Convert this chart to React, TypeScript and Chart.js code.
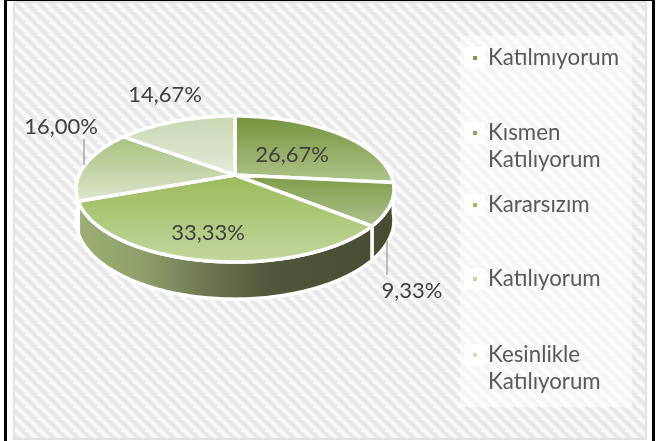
import React, { useEffect, useRef } from "react";
import { Chart, registerables } from "chart.js";

Chart.register(...registerables);

const categories: string[][] = [
  ["Katılmıyorum"],
  ["Kısmen", "Katılıyorum"],
  ["Kararsızım"],
  ["Katılıyorum"],
  ["Kesinlikle", "Katılıyorum"],
];
const values = [26.67, 9.33, 33.33, 16.0, 14.67];
const markerColors = ["#7f9c46", "#8fac55", "#9bbb59", "#c3d69b", "#d8e4bc"];
const sliceTopColors = ["#76933c", "#7d9b45", "#9bbb59", "#a9c07e", "#c9d7b4"];
const sliceBottomColors = ["#b0c48a", "#b2c291", "#c4d69e", "#dde6ce", "#e4ecd9"];
const wallStops: [number, string][] = [
  [0, "#9cae72"],
  [0.2, "#8f9f6b"],
  [0.42, "#6b7350"],
  [0.62, "#4f5639"],
  [1, "#454c30"],
];

// Layout of the tilted disc (perspective projection of the pie's unit circle)
const CX = 235;
const CY = 175;
const RX = 156;
const RY = 70.3;
const TILT = 0.192;
const DEPTH = 30;

const labelCenters: [number, number][] = [
  [292, 155],
  [412, 291],
  [208, 233],
  [61, 127],
  [165, 95],
];
const leaders: ([number, number, number] | null)[] = [
  null,
  [387, 240, 275],
  null,
  [84, 139, 165],
  null,
];
const legendRows: number[][] = [[58], [133, 160], [205], [279], [355, 382]];

const FONT = "Lato, 'Open Sans', sans-serif";

function project(angle: number, r: number, lower: boolean): [number, number] {
  const u = Math.cos(angle) * r;
  const v = Math.sin(angle) * r;
  const w = 1 - TILT * v;
  return [CX + (RX * u) / w, CY + (RY * v + (lower ? DEPTH : 0)) / w];
}

function arcPoints(a0: number, a1: number, lower: boolean): [number, number][] {
  const n = Math.max(2, Math.ceil(Math.abs(a1 - a0) / 0.02));
  const pts: [number, number][] = [];
  for (let i = 0; i <= n; i++) pts.push(project(a0 + ((a1 - a0) * i) / n, 1, lower));
  return pts;
}

function tracePolygon(ctx: CanvasRenderingContext2D, pts: [number, number][]) {
  ctx.beginPath();
  pts.forEach((p, i) => (i ? ctx.lineTo(p[0], p[1]) : ctx.moveTo(p[0], p[1])));
  ctx.closePath();
}

function makeHatch(ctx: CanvasRenderingContext2D): CanvasPattern | string {
  const size = 12;
  const c = document.createElement("canvas");
  c.width = size;
  c.height = size;
  const g = c.getContext("2d");
  if (!g) return "#f2f2f2";
  g.fillStyle = "#fbfbfb";
  g.fillRect(0, 0, size, size);
  [[6, "#f0f0f0"], [3, "#e7e7e7"]].forEach(([lw, col]) => {
    g.strokeStyle = col as string;
    g.lineWidth = lw as number;
    for (let k = -size; k <= size * 2; k += size) {
      g.beginPath();
      g.moveTo(k - size, -size);
      g.lineTo(k + size, size);
      g.stroke();
    }
  });
  return ctx.createPattern(c, "repeat") || "#f2f2f2";
}

const scenePlugin = {
  id: "scene",
  beforeDraw(chart: Chart) {
    const ctx = chart.ctx;
    ctx.save();
    ctx.fillStyle = "#ffffff";
    ctx.fillRect(0, 0, 660, 441);
    ctx.fillStyle = makeHatch(ctx);
    ctx.fillRect(14, 2, 632, 436);
    ctx.strokeStyle = "#e3e3e3";
    ctx.lineWidth = 2;
    ctx.strokeRect(14, 2, 632, 437);
    ctx.fillStyle = "#000000";
    ctx.fillRect(4, 0, 3, 441);
    ctx.fillRect(652, 0, 3, 441);
    ctx.fillRect(4, 0, 651, 1);
    // legend panel
    ctx.fillStyle = "rgba(255,255,255,0.55)";
    ctx.fillRect(460, 36, 172, 371);
    ctx.restore();
  },
  beforeDatasetsDraw(chart: Chart) {
    const ctx = chart.ctx;
    const arcs = chart.getDatasetMeta(0).data as any[];
    ctx.save();
    ctx.lineJoin = "round";
    ctx.strokeStyle = "#ffffff";
    ctx.lineWidth = 3.5;

    // side wall, front half only
    const wall = ctx.createLinearGradient(80, 0, 393, 0);
    wallStops.forEach(([o, col]) => wall.addColorStop(o, col));
    arcs.forEach((arc) => {
      const a0 = Math.max(arc.startAngle, 0);
      const a1 = Math.min(arc.endAngle, Math.PI);
      if (a1 <= a0) return;
      const pts = [...arcPoints(a0, a1, false), ...arcPoints(a1, a0, true)];
      tracePolygon(ctx, pts);
      ctx.fillStyle = wall;
      ctx.fill();
      ctx.stroke();
    });

    // top surface
    arcs.forEach((arc, i) => {
      const pts = [[CX, CY] as [number, number], ...arcPoints(arc.startAngle, arc.endAngle, false)];
      const ys = pts.map((p) => p[1]);
      const grad = ctx.createLinearGradient(0, Math.min(...ys), 0, Math.max(...ys));
      grad.addColorStop(0, sliceTopColors[i]);
      grad.addColorStop(1, sliceBottomColors[i]);
      tracePolygon(ctx, pts);
      ctx.fillStyle = grad;
      ctx.fill();
      ctx.stroke();
    });
    ctx.restore();
    return false;
  },
  afterDraw(chart: Chart) {
    const ctx = chart.ctx;
    ctx.save();
    // leader lines
    ctx.strokeStyle = "#a6a6a6";
    ctx.lineWidth = 1.5;
    leaders.forEach((l) => {
      if (!l) return;
      ctx.beginPath();
      ctx.moveTo(l[0], l[1]);
      ctx.lineTo(l[0], l[2]);
      ctx.stroke();
    });
    // data labels
    ctx.font = `22px ${FONT}`;
    ctx.fillStyle = "#404040";
    ctx.textAlign = "center";
    ctx.textBaseline = "middle";
    values.forEach((v, i) => {
      ctx.fillText(`${v.toFixed(2).replace(".", ",")}%`, labelCenters[i][0], labelCenters[i][1]);
    });
    // legend
    ctx.textAlign = "left";
    ctx.font = `22.3px ${FONT}`;
    categories.forEach((lines, i) => {
      const rows = legendRows[i];
      ctx.fillStyle = "rgba(255,255,255,0.9)";
      ctx.beginPath();
      ctx.roundRect(464, rows[0] - 11, 21, 22, 3);
      ctx.fill();
      ctx.fillStyle = markerColors[i];
      ctx.fillRect(473, rows[0] - 2, 4, 4);
      ctx.fillStyle = "#595959";
      lines.forEach((t, k) => ctx.fillText(t, 488, rows[k]));
    });
    ctx.restore();
  },
};

export default function App() {
  const ref = useRef<HTMLCanvasElement>(null);
  useEffect(() => {
    document.body.style.margin = "0";
    if (!ref.current) return;
    const chart = new Chart(ref.current, {
      type: "pie",
      data: {
        labels: categories.map((c) => c.join(" ")),
        datasets: [{ data: values, backgroundColor: markerColors, borderColor: "#ffffff" }],
      },
      options: {
        responsive: false,
        animation: false,
        plugins: { legend: { display: false }, tooltip: { enabled: false } },
      },
      plugins: [scenePlugin as any],
    });
    return () => chart.destroy();
  }, []);
  return (
    <div style={{ position: "absolute", left: 0, top: 0 }}>
      <canvas ref={ref} width={660} height={441} style={{ display: "block" }} />
    </div>
  );
}
